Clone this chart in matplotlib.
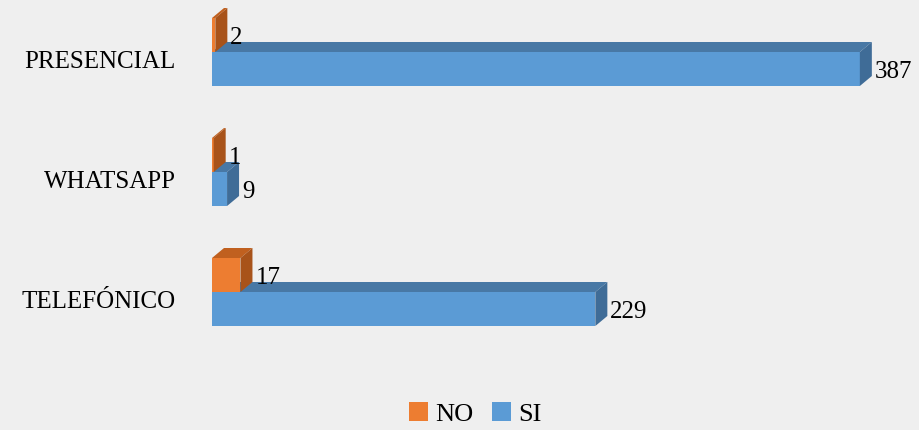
import matplotlib
matplotlib.use('Agg')
import matplotlib.pyplot as plt
from matplotlib.patches import Polygon, Patch

categories = ['TELEFÓNICO', 'WHATSAPP', 'PRESENCIAL']
si_values = [229, 9, 387]
no_values = [17, 1, 2]
legend_labels = ['NO', 'SI']

bg = '#efefef'
si_front, si_top, si_side = '#5b9bd5', '#4878a5', '#3f6c97'
no_front, no_top, no_side = '#ed7d31', '#c0601f', '#a8531a'

W, H = 920, 430
px_x = 1.674          # pixels per unit value
px_y = 120.0          # pixels per category
bar_h = 34 / px_y
dx = 12 / px_x        # depth offset in data units
dy = 10 / px_y

plt.rcParams['font.family'] = ['Liberation Serif', 'DejaVu Serif']

fig = plt.figure(figsize=(W / 100, H / 100), dpi=100, facecolor=bg)
left = 212 / W
ax = fig.add_axes([left, 0, 1 - left, 1])
ax.set_facecolor(bg)
ax.set_xlim(0, (W - 212) / px_x)
ax.set_ylim(-138 / px_y, (H - 138) / px_y)


def bar3d(val, base, front, top, side):
    ax.add_patch(Polygon([(0, base), (val, base), (val, base + bar_h), (0, base + bar_h)],
                         closed=True, facecolor=front, edgecolor='none'))
    ax.add_patch(Polygon([(0, base + bar_h), (val, base + bar_h),
                          (val + dx, base + bar_h + dy), (dx, base + bar_h + dy)],
                         closed=True, facecolor=top, edgecolor='none'))
    ax.add_patch(Polygon([(val, base), (val + dx, base + dy),
                          (val + dx, base + bar_h + dy), (val, base + bar_h)],
                         closed=True, facecolor=side, edgecolor='none'))
    ax.text(val + dx + 3 / px_x, base + bar_h / 2 - 3 / px_y, str(val),
            ha='left', va='center', fontsize=18, color='black')


for i, (si, no) in enumerate(zip(si_values, no_values)):
    bar3d(si, i - bar_h, si_front, si_top, si_side)
    bar3d(no, i, no_front, no_top, no_side)

ax.set_yticks([i - 8 / px_y for i in range(len(categories))])
ax.set_yticklabels(categories, fontsize=18)
ax.tick_params(axis='y', length=0, pad=26)
ax.set_xticks([])
for s in ax.spines.values():
    s.set_visible(False)

handles = [Patch(facecolor=no_front), Patch(facecolor=si_front)]
fig.legend(handles, legend_labels, loc='lower center', bbox_to_anchor=(0.517, -0.045),
           ncol=2, frameon=False, fontsize=19, handlelength=0.7, handleheight=0.7,
           handletextpad=0.3, columnspacing=0.7)

fig.savefig('out.png', dpi=100, facecolor=bg)
